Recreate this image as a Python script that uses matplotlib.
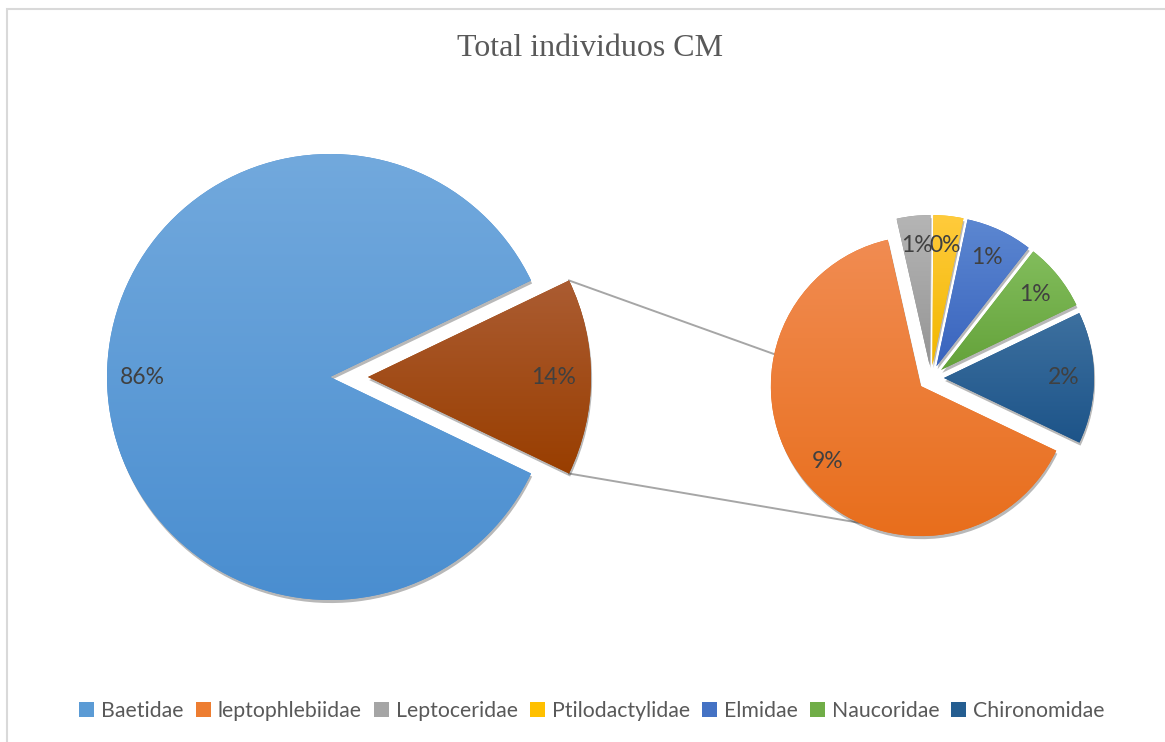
import numpy as np
import matplotlib
matplotlib.use("Agg")
import matplotlib.pyplot as plt
from matplotlib.patches import Patch, Rectangle
import matplotlib.patheffects as pe
from matplotlib.colors import to_rgb

# ---------------- data ----------------
title = "Total individuos CM"
primary_label = "Baetidae"
primary_value = 86.0
secondary_labels = ["leptophlebiidae", "Leptoceridae", "Ptilodactylidae",
                    "Elmidae", "Naucoridae", "Chironomidae"]
secondary_values = [9.2, 0.52, 0.46, 1.03, 1.05, 2.03]

# ---------------- style ----------------
primary_colors = [("#72A9DD", "#4A8ED0"),   # Baetidae
                  ("#AB5C32", "#993E00")]   # Other (split)
secondary_colors = [("#F18C52", "#E86E1C"),
                    ("#B5B5B5", "#959595"),
                    ("#FFCB3C", "#F2B700"),
                    ("#5C87D1", "#3964BE"),
                    ("#82BD5C", "#64A23A"),
                    ("#3D709F", "#1D5489")]
legend_colors = ["#5B9BD5", "#ED7D31", "#A5A5A5", "#FFC000",
                 "#4472C4", "#70AD47", "#255E91"]

W, H = 1165, 742
fig = plt.figure(figsize=(W / 100, H / 100), dpi=100)
ax = fig.add_axes([0, 0, 1, 1])

total = primary_value + sum(secondary_values)
other = sum(secondary_values)
other_deg = other / total * 360.0

# primary pie
w1, _ = ax.pie([other, primary_value], startangle=-other_deg / 2,
               counterclock=True, radius=223, center=(330, 365),
               explode=[38, 0], wedgeprops=dict(linewidth=0))
# secondary pie
w2, _ = ax.pie(secondary_values, startangle=-25.5, counterclock=False,
               radius=150, center=(931, 364), explode=[13] * 6,
               wedgeprops=dict(linewidth=0))

shadow = [pe.SimplePatchShadow(offset=(0.8, -2.2), shadow_rgbFace="k", alpha=0.28),
          pe.Normal()]


def grad_fill(w, top, bot):
    w.set_facecolor(bot)
    w.set_path_effects(shadow)
    ext = w.get_patch_transform().transform_path(w.get_path()).get_extents()
    t = np.linspace(0, 1, 256)[:, None, None]
    img = (1 - t) * np.array(to_rgb(top))[None, None, :] + t * np.array(to_rgb(bot))[None, None, :]
    im = ax.imshow(img, extent=[ext.x0, ext.x1, ext.y0, ext.y1], origin="upper",
                   aspect="auto", interpolation="bilinear", zorder=3)
    im.set_clip_path(w)


for w in list(w1) + list(w2):
    w.set_zorder(2)

grad_fill(w1[1], *primary_colors[0])
grad_fill(w1[0], *primary_colors[1])
for w, (a, b) in zip(w2, secondary_colors):
    grad_fill(w, a, b)

# percentage labels
def put_label(w, value, frac=0.8):
    mid = np.deg2rad((w.theta1 + w.theta2) / 2)
    cx, cy = w.center
    x = cx + frac * w.r * np.cos(mid)
    y = cy + frac * w.r * np.sin(mid)
    ax.text(x, y, f"{value / total * 100:.0f}%", ha="center", va="center",
            fontsize=16.5, color="#404040", family="Lato", zorder=6)

put_label(w1[1], primary_value, 0.84)
put_label(w1[0], other, 0.83)
for w, v in zip(w2, secondary_values):
    put_label(w, v, 0.8)

# connector lines
ow = w1[0]
sw = w2[0]
for a_other, a_sec in [(ow.theta2, 167.7), (ow.theta1, 245.6)]:
    p0 = (ow.center[0] + ow.r * np.cos(np.deg2rad(a_other)),
          ow.center[1] + ow.r * np.sin(np.deg2rad(a_other)))
    p1 = (sw.center[0] + sw.r * np.cos(np.deg2rad(a_sec)),
          sw.center[1] + sw.r * np.sin(np.deg2rad(a_sec)))
    ax.plot([p0[0], p1[0]], [p0[1], p1[1]], color="#A6A6A6", lw=1.4, zorder=1)

# title
ax.text(590, H - 49, title, ha="center", va="center", fontsize=23,
        color="#595959", family="Liberation Serif")

# chart border
ax.add_patch(Rectangle((7, -30), 1300, H - 9 + 30, fill=False,
                       edgecolor="#D9D9D9", lw=1.5, zorder=0))

# legend
handles = [Patch(facecolor=c, edgecolor="none") for c in legend_colors]
labels = [primary_label] + secondary_labels
leg = ax.legend(handles, labels, loc="center", bbox_to_anchor=(592 / W, (H - 711) / H),
                ncol=7, frameon=False, handlelength=0.72, handleheight=0.72,
                handletextpad=0.33, columnspacing=0.55, borderpad=0,
                prop=dict(family="Lato", size=15.3), labelcolor="#595959")

ax.set_xlim(0, W)
ax.set_ylim(0, H)
ax.set_aspect("auto")
ax.axis("off")
fig.savefig("out.png", dpi=100)
